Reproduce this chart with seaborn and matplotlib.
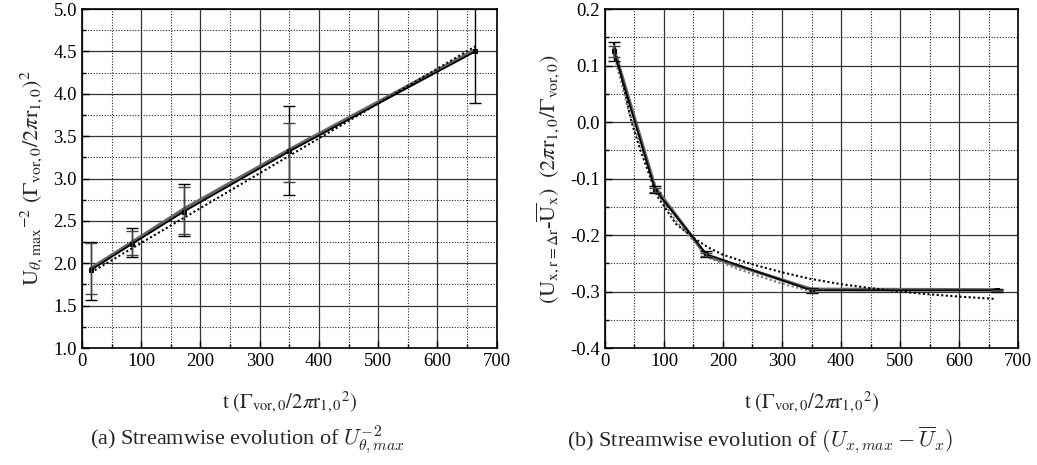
import numpy as np
import pandas as pd
import matplotlib
matplotlib.use("Agg")
import matplotlib.pyplot as plt
import seaborn as sns
from matplotlib.ticker import MultipleLocator

# ---------------- data ----------------
t_pts = [15, 85, 172, 350, 664]

# (a) U_theta,max^-2
a_black = [1.92, 2.23, 2.61, 3.32, 4.50]
a_gray = [1.94, 2.25, 2.64, 3.34, 4.52]
a_errA_lo = [1.57, 2.07, 2.32, 2.80, 3.89]
a_errA_hi = [2.25, 2.42, 2.93, 3.86, 5.12]
a_errB_lo = [1.64, 2.10, 2.34, 2.96]
a_errB_hi = [2.24, 2.38, 2.90, 3.66]
a_fit_t = [15, 664]
a_fit = [1.89, 4.56]

# (b) U_x - mean U_x
b_black = [0.125, -0.120, -0.234, -0.298, -0.298]
b_gray = [0.130, -0.116, -0.237, -0.296, -0.297]
b_errA = [0.017, 0.006, 0.005, 0.005, 0.002]
b_errB = [0.010, 0.004, 0.003, 0.003, 0.001]
b_fit1_t = [15, 30, 45, 60, 88, 120, 150, 175, 200, 250, 300, 350, 400, 450, 500, 550, 600, 660]
b_fit1 = [0.14, 0.07, 0.0, -0.05, -0.13, -0.18, -0.205, -0.222, -0.235, -0.252, -0.266,
          -0.278, -0.287, -0.294, -0.300, -0.305, -0.309, -0.313]
b_fit2_t = [15, 40, 60, 88, 120, 150, 175, 230, 300, 350]
b_fit2 = [0.12, 0.02, -0.04, -0.125, -0.175, -0.21, -0.24, -0.262, -0.286, -0.300]

# ---------------- style ----------------
sns.set_style("ticks")
plt.rcParams['font.family'] = ['Liberation Serif', 'DejaVu Serif']
plt.rcParams['mathtext.fontset'] = 'stix'

fig = plt.figure(figsize=(10.37, 4.65), dpi=100)
axL = fig.add_axes([0.079, 0.2516, 0.400, 0.729])
axR = fig.add_axes([0.5834, 0.2516, 0.3983, 0.729])


def style_axes(ax, xmaj, xmin, ymaj, ymin):
    ax.xaxis.set_major_locator(MultipleLocator(xmaj))
    ax.xaxis.set_minor_locator(MultipleLocator(xmin))
    ax.yaxis.set_major_locator(MultipleLocator(ymaj))
    ax.yaxis.set_minor_locator(MultipleLocator(ymin))
    ax.grid(which='major', color='#333333', linestyle='-', linewidth=0.9)
    ax.grid(which='minor', color='#222222', linestyle=(0, (1, 1.5)), linewidth=0.8)
    ax.set_axisbelow(True)
    ax.tick_params(which='both', direction='in', top=False, right=False,
                   labelsize=13.5, width=1.0, colors='black')
    ax.tick_params(which='major', length=5)
    ax.tick_params(which='minor', length=3)
    for s in ax.spines.values():
        s.set_linewidth(1.2)
        s.set_color('black')


def draw(ax, black, gray, fits):
    df = pd.DataFrame({'t': t_pts, 'black': black, 'gray': gray})
    sns.lineplot(data=df, x='t', y='gray', ax=ax, color='#666666', lw=2.4, zorder=3)
    sns.lineplot(data=df, x='t', y='black', ax=ax, color='black', lw=1.3,
                 marker='s', markersize=3, markeredgecolor='black', zorder=4)
    for (ft, fv, col) in fits:
        dff = pd.DataFrame({'t': ft, 'v': fv})
        sns.lineplot(data=dff, x='t', y='v', ax=ax, color=col, lw=1.5,
                     linestyle=(0, (1, 1.2)), zorder=3)


# ---- (a)
style_axes(axL, 100, 50, 0.5, 0.25)
draw(axL, a_black, a_gray, [(a_fit_t, a_fit, 'black')])
lo = np.array(a_black) - np.array(a_errA_lo)
hi = np.array(a_errA_hi) - np.array(a_black)
axL.errorbar(t_pts, a_black, yerr=[lo, hi], fmt='none', ecolor='black',
             elinewidth=1.0, capsize=4, capthick=1.0, zorder=5, clip_on=True)
lo2 = np.array(a_black[:4]) - np.array(a_errB_lo)
hi2 = np.array(a_errB_hi) - np.array(a_black[:4])
axL.errorbar(t_pts[:4], a_black[:4], yerr=[lo2, hi2], fmt='none', ecolor='#444444',
             elinewidth=1.0, capsize=4, capthick=1.0, zorder=5)
axL.set_xlim(0, 700)
axL.set_ylim(1.0, 5.0)
axL.yaxis.set_major_formatter(matplotlib.ticker.FormatStrFormatter('%.1f'))
axL.set_xlabel(r'$\mathrm{t}\ (\Gamma_{\mathrm{vor},0}/2\pi\mathrm{r}_{1,0}{}^{2})$', fontsize=15, labelpad=14)
axL.set_ylabel(r'$\mathrm{U}_{\theta,\mathrm{max}}{}^{-2}\ (\Gamma_{\mathrm{vor},0}/2\pi\mathrm{r}_{1,0})^{2}$',
               fontsize=16, labelpad=6)

# ---- (b)
style_axes(axR, 100, 50, 0.1, 0.05)
draw(axR, b_black, b_gray, [(b_fit1_t, b_fit1, 'black'), (b_fit2_t, b_fit2, '#777777')])
axR.errorbar(t_pts, b_black, yerr=b_errA, fmt='none', ecolor='black',
             elinewidth=1.0, capsize=4, capthick=1.0, zorder=5)
axR.errorbar(t_pts, b_black, yerr=b_errB, fmt='none', ecolor='#444444',
             elinewidth=1.0, capsize=4, capthick=1.0, zorder=5)
axR.set_xlim(0, 700)
axR.set_ylim(-0.4, 0.2)
axR.yaxis.set_major_formatter(matplotlib.ticker.FormatStrFormatter('%.1f'))
axR.set_xlabel(r'$\mathrm{t}\ (\Gamma_{\mathrm{vor},0}/2\pi\mathrm{r}_{1,0}{}^{2})$', fontsize=15, labelpad=14)
axR.set_ylabel(r'$(\mathrm{U}_{\mathrm{x,r{=}\Delta r}}$-$\overline{\mathrm{U}}_{\mathrm{x}})\ \ (2\pi\mathrm{r}_{1,0}/\Gamma_{\mathrm{vor},0})$',
               fontsize=16, labelpad=6)

# ---- captions
fig.text(0.087, 0.054, r'(a) Streamwise evolution of $U_{\theta,max}^{-2}$', ha='left', va='center',
         fontsize=16, family=['Liberation Serif'], math_fontfamily='cm')
fig.text(0.547, 0.054, r'(b) Streamwise evolution of $(U_{x,max} - \overline{U}_x)$', ha='left', va='center',
         fontsize=16, family=['Liberation Serif'], math_fontfamily='cm')

fig.savefig('out.png', dpi=100)
